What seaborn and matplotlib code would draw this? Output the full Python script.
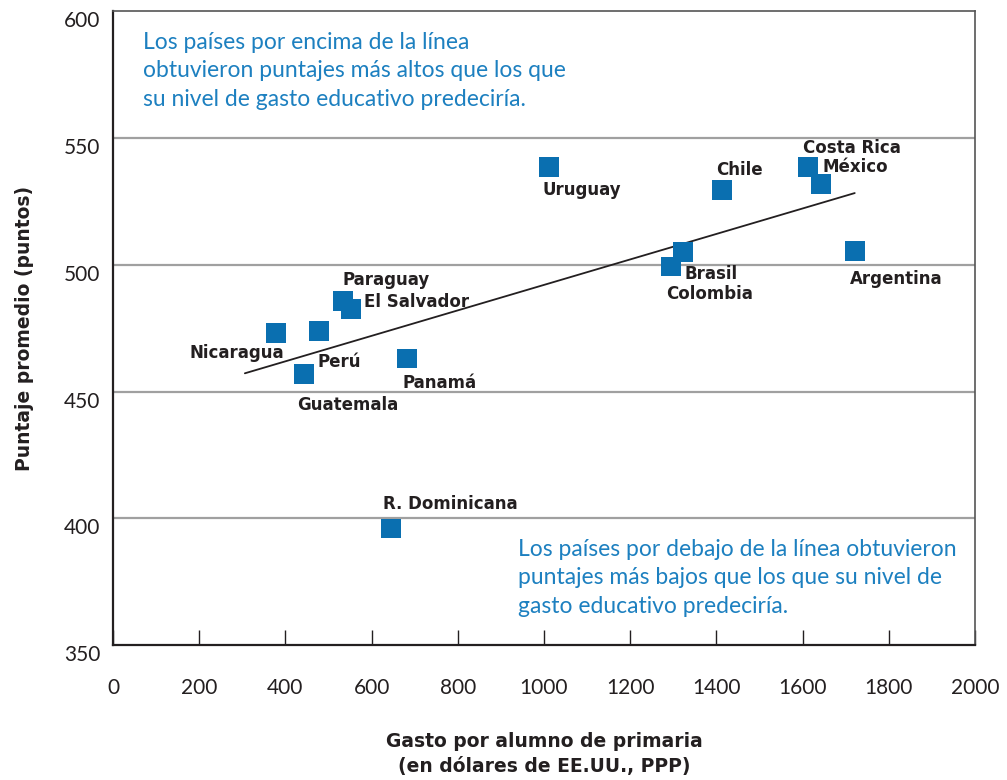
import matplotlib
matplotlib.use("Agg")
import matplotlib.pyplot as plt
import seaborn as sns
import pandas as pd

# data
paises = ["Nicaragua", "Guatemala", "Perú", "Paraguay", "El Salvador", "Panamá",
          "R. Dominicana", "Uruguay", "Colombia", "Brasil", "Chile", "Costa Rica",
          "México", "Argentina"]
gasto = [378, 443, 478, 534, 552, 682, 645, 1012, 1295, 1322, 1413, 1612, 1643, 1721]
puntaje = [473, 457, 474, 485.6, 482.5, 463, 396, 538.5, 499.4, 505, 529.5, 538.5, 532, 505.4]

# fitted line endpoints
linea_x = [306, 1721]
linea_y = [457.2, 528.3]

x_ticks = [0, 200, 400, 600, 800, 1000, 1200, 1400, 1600, 1800, 2000]
y_ticks = [350, 400, 450, 500, 550, 600]

# label offsets in pixels (dx, dy, ha)
offsets = {
    "Nicaragua": (8, -20, "right"),
    "Guatemala": (44, -31, "center"),
    "Perú": (-2, -31, "left"),
    "Paraguay": (43, 21, "center"),
    "El Salvador": (13, 7, "left"),
    "Panamá": (33, -24, "center"),
    "R. Dominicana": (-8, 24, "left"),
    "Uruguay": (-7, -23, "left"),
    "Colombia": (-5, -28, "left"),
    "Brasil": (2, -22, "left"),
    "Chile": (-6, 20, "left"),
    "Costa Rica": (-5, 19, "left"),
    "México": (1, 17, "left"),
    "Argentina": (-5, -28, "left"),
}

df = pd.DataFrame({"pais": paises, "gasto": gasto, "puntaje": puntaje})

sns.set_style("white")
plt.rcParams["font.family"] = ["Lato", "DejaVu Sans"]

azul = "#0a6fb0"
texto_azul = "#1d80c0"
oscuro = "#231f20"
negrita = dict(family="DejaVu Sans", fontweight="bold", color=oscuro)

fig = plt.figure(figsize=(10.07, 7.8), dpi=100)
ax = fig.add_axes([0.1122, 0.173, 0.856, 0.8125])

for v in [400, 450, 500, 550]:
    ax.axhline(v, color="#a0a0a0", lw=1.6, zorder=0)

sns.lineplot(x=linea_x, y=linea_y, ax=ax, color=oscuro, lw=1.3, zorder=2)
sns.scatterplot(data=df, x="gasto", y="puntaje", ax=ax, marker="s", s=200,
                color=azul, edgecolor="none", zorder=3)

for p, gx, py in zip(paises, gasto, puntaje):
    dx, dy, ha = offsets[p]
    ax.annotate(p, (gx, py), xytext=(dx, dy), textcoords="offset pixels",
                ha=ha, va="center", fontsize=12, **negrita)

ax.set_xlim(0, 2000)
ax.set_ylim(350, 600)
ax.set_xticks(x_ticks)
ax.set_yticks(y_ticks)
ax.tick_params(axis="x", bottom=True, direction="in", length=11, width=1, color=oscuro,
               pad=24, labelsize=15, labelcolor=oscuro)
ax.tick_params(axis="y", length=0, pad=9, labelsize=15, labelcolor=oscuro)
for lab in ax.get_yticklabels():
    lab.set_va("top")

for s in ["left", "bottom"]:
    ax.spines[s].set_color(oscuro)
    ax.spines[s].set_linewidth(1.6)
for s in ["top", "right"]:
    ax.spines[s].set_color("#555555")
    ax.spines[s].set_linewidth(1.2)

ax.set_xlabel("Gasto por alumno de primaria\n(en dólares de EE.UU., PPP)",
              fontsize=13.5, labelpad=24, linespacing=1.45, **negrita)
ax.set_ylabel("Puntaje promedio (puntos)", fontsize=13.5, labelpad=22, **negrita)

ax.text(0.035, 0.967, "Los países por encima de la línea\nobtuvieron puntajes más altos que los que\nsu nivel de gasto educativo predeciría.",
        transform=ax.transAxes, ha="left", va="top", fontsize=16.5,
        color=texto_azul, linespacing=1.42)
ax.text(0.47, 0.167, "Los países por debajo de la línea obtuvieron\npuntajes más bajos que los que su nivel de\ngasto educativo predeciría.",
        transform=ax.transAxes, ha="left", va="top", fontsize=16.5,
        color=texto_azul, linespacing=1.42)

fig.savefig("out.png", dpi=100)
